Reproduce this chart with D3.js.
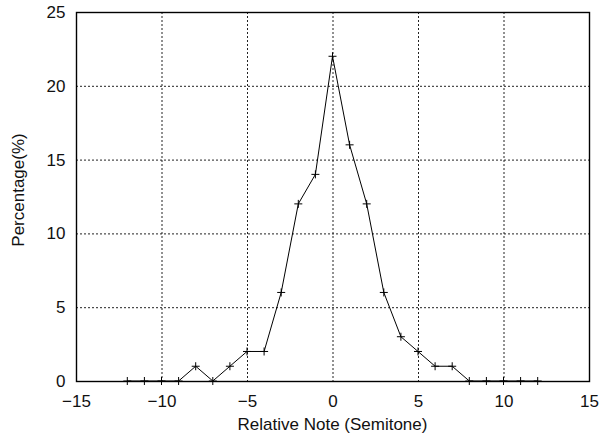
<!DOCTYPE html>
<html>
<head>
<meta charset="utf-8">
<script src="https://cdn.jsdelivr.net/npm/d3@7"></script>
<style>
  body { margin: 0; background: #fff; }
  text { font-family: "Liberation Sans", Arial, sans-serif; fill: #111; }
</style>
</head>
<body>
<svg></svg>
<script>
//--Data
var notes = [-12, -11, -10, -9, -8, -7, -6, -5, -4, -3, -2, -1, 0, 1, 2, 3, 4, 5, 6, 7, 8, 9, 10, 11, 12];
var percents = [0, 0, 0, 0, 1, 0, 1, 2, 2, 6, 12, 14, 22, 16, 12, 6, 3, 2, 1, 1, 0, 0, 0, 0, 0];
var xTicks = [-15, -10, -5, 0, 5, 10, 15];
var yTicks = [0, 5, 10, 15, 20, 25];

//--Canvas
var canvas = { width: 600, height: 438, left: 76, right: 589, top: 12, bottom: 381, font: "17px" };
canvas.x = d3.scaleLinear().domain([-15, 15]).range([canvas.left, canvas.right]);
canvas.y = d3.scaleLinear().domain([0, 25]).range([canvas.bottom, canvas.top]);

let root = d3.select("svg")
  .attr("width", canvas.width)
  .attr("height", canvas.height);

//Grid
let grid = root.append("g")
  .attr("stroke", "#222")
  .attr("stroke-width", 1)
  .attr("stroke-dasharray", "2,2");
grid.selectAll("line.gx")
  .data(xTicks.filter(d => d > -15 && d < 15))
  .enter().append("line")
  .attr("x1", d => canvas.x(d) + 0.5).attr("x2", d => canvas.x(d) + 0.5)
  .attr("y1", canvas.top).attr("y2", canvas.bottom);
grid.selectAll("line.gy")
  .data(yTicks.filter(d => d > 0 && d < 25))
  .enter().append("line")
  .attr("y1", d => canvas.y(d) + 0.5).attr("y2", d => canvas.y(d) + 0.5)
  .attr("x1", canvas.left).attr("x2", canvas.right);

//Border
root.append("rect")
  .attr("x", canvas.left + 0.5)
  .attr("y", canvas.top + 0.5)
  .attr("width", canvas.right - canvas.left)
  .attr("height", canvas.bottom - canvas.top)
  .attr("fill", "none")
  .attr("stroke", "#000")
  .attr("stroke-width", 1.4);

//Axes (labels only)
let xAxis = root.append("g")
  .attr("transform", "translate(0," + (canvas.bottom + 0.5) + ")")
  .call(d3.axisBottom(canvas.x).tickValues(xTicks).tickSize(0));
xAxis.selectAll("text").attr("dy", null).attr("y", 25);
let yAxis = root.append("g")
  .attr("transform", "translate(" + (canvas.left + 0.5) + ",0)")
  .call(d3.axisLeft(canvas.y).tickValues(yTicks).tickSize(0).tickPadding(11));
[xAxis, yAxis].forEach(a => {
  a.select(".domain").remove();
  a.selectAll("text")
    .style("font-size", canvas.font)
    .style("font-family", "'Liberation Sans', Arial, sans-serif")
    .attr("fill", "#111");
});

//Titles
root.append("text")
  .attr("x", (canvas.left + canvas.right) / 2)
  .attr("y", 430)
  .attr("text-anchor", "middle")
  .style("font-size", canvas.font)
  .text("Relative Note (Semitone)");
root.append("text")
  .attr("transform", "translate(24,190) rotate(-90)")
  .attr("text-anchor", "middle")
  .style("font-size", canvas.font)
  .text("Percentage(%)");

//Line
let points = notes.map((d, i) => [d, percents[i]]);
root.append("path")
  .datum(points)
  .attr("fill", "none")
  .attr("stroke", "#000")
  .attr("stroke-width", 1)
  .attr("d", d3.line().x(d => canvas.x(d[0])).y(d => canvas.y(d[1])));

//Markers
root.append("g")
  .selectAll("path")
  .data(points)
  .enter().append("path")
  .attr("fill", "none")
  .attr("stroke", "#000")
  .attr("stroke-width", 1)
  .attr("d", d => {
    let cx = canvas.x(d[0]), cy = canvas.y(d[1]);
    return "M" + (cx - 4) + "," + cy + "H" + (cx + 4) + "M" + cx + "," + (cy - 4) + "V" + (cy + 4);
  });
</script>
</body>
</html>
